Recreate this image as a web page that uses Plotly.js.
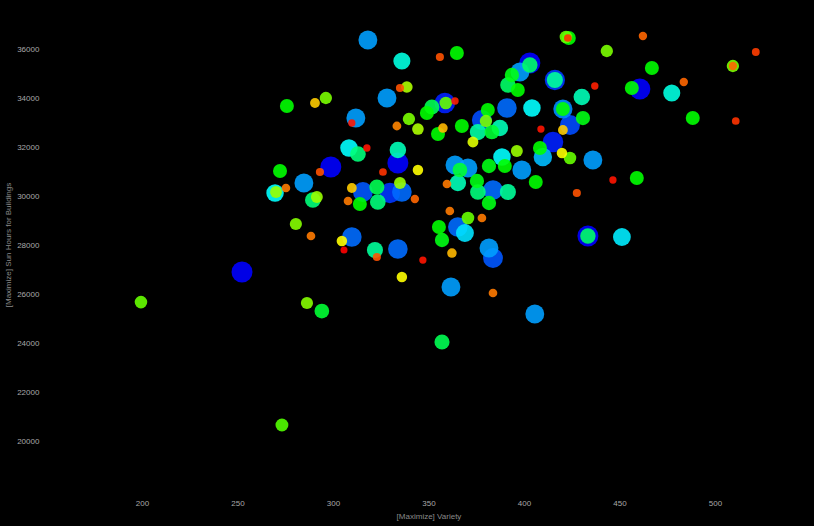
<!DOCTYPE html>
<html>
<head>
<meta charset="utf-8">
<script src="https://cdn.plot.ly/plotly-3.0.1.min.js"></script>
<style>html,body{margin:0;padding:0;background:#000;}#chart{width:814px;height:526px;}</style>
</head>
<body>
<div id="chart"></div>
<script>
// [Maximize] Variety
const variety = [199.2,252.1,273.0,286.1,293.9,356.8,280.3,288.2,275.6,272.0,269.4,269.9,275.1,284.5,289.2,291.3,290.3,296.0,318.0,311.7,309.6,308.1,312.8,317.5,298.6,292.9,309.6,315.4,322.7,323.2,313.8,307.6,309.6,304.4,305.5,321.7,322.7,335.8,355.7,364.6,328.0,334.8,338.4,358.3,358.8,363.6,351.5,348.9,339.5,333.2,344.2,357.3,354.7,367.2,380.8,377.7,379.8,387.1,375.6,373.0,382.9,333.7,333.7,344.2,325.9,363.6,370.4,366.2,381.4,388.2,329.5,334.8,335.8,342.6,359.4,365.1,375.1,375.6,383.5,381.4,391.3,360.9,377.7,355.2,356.8,365.1,370.4,368.8,362.0,346.8,333.7,381.4,383.5,335.8,361.5,383.5,405.4,402.8,402.8,397.6,393.4,391.3,396.5,415.9,415.9,421.7,423.2,422.7,443.1,436.8,430.0,390.8,403.9,420.1,420.1,430.6,408.6,423.8,420.1,414.9,408.1,409.6,419.6,423.8,435.8,396.0,389.7,398.6,405.9,427.4,446.3,458.8,433.2,433.2,451.0,462.0,521.1,509.1,509.1,466.7,483.4,460.4,456.2,477.1,488.1,510.6];
// [Maximize] Sun Hours for Buildings
const sunHours = [25670,26897,20652,25632,25305,24040,28857,28367,33673,31020,30122,30163,30326,30530,29836,29959,33796,34000,36367,33183,32979,31959,31714,31959,31183,30979,30326,30163,30367,29755,29673,29796,28326,28163,27795,27795,27509,35510,35673,35837,34000,34408,34449,33796,33796,33877,33632,33388,33143,32857,32734,32775,32530,32857,33510,33102,33061,32775,32612,32204,32612,31877,31347,31061,30979,31265,31143,31061,31224,31592,30122,30530,30163,29877,30489,30530,30612,30163,30244,29714,30163,29387,29101,28734,28204,28734,29101,28489,27673,27387,27836,27877,27469,26693,26285,26040,25183,35429,35347,35061,34939,34530,34326,34735,34735,36490,36449,36449,35918,34490,34041,33592,33592,33551,33551,33183,32734,32898,32694,32204,31959,31592,31755,31551,31469,31837,31224,31061,30571,30122,30653,30734,28367,28367,28326,36531,35878,35306,35306,35224,34653,34367,34408,34204,33183,33061];
// third objective (colour + size), normalised 0..1
const score = [0.40,1.00,0.42,0.37,0.55,0.58,0.37,0.12,0.50,0.50,0.75,0.35,0.12,0.85,0.62,0.35,0.20,0.38,0.85,0.85,0.02,0.75,0.62,0.02,1.00,0.08,0.20,0.92,0.58,0.62,0.50,0.12,0.90,0.25,0.00,0.65,0.08,0.72,0.08,0.50,0.85,0.08,0.33,0.97,0.40,0.03,0.58,0.50,0.38,0.13,0.33,0.18,0.50,0.50,0.50,0.93,0.38,0.68,0.66,0.28,0.55,0.68,1.00,0.25,0.05,0.85,0.85,0.55,0.52,0.75,0.95,0.35,0.90,0.10,0.12,0.68,0.52,0.62,0.90,0.52,0.65,0.12,0.12,0.50,0.52,0.90,0.40,0.78,0.18,0.02,0.90,0.85,0.92,0.25,0.85,0.12,0.85,1.00,0.60,0.85,0.52,0.60,0.50,0.95,0.65,0.40,0.50,0.05,0.38,0.03,0.68,0.90,0.75,0.87,0.50,0.52,0.02,0.93,0.20,0.97,0.50,0.82,0.25,0.40,0.85,0.35,0.50,0.85,0.50,0.08,0.02,0.50,1.00,0.60,0.77,0.10,0.06,0.38,0.10,0.50,0.10,1.00,0.50,0.72,0.50,0.05];
const xTicks = [200,250,300,350,400,450,500];
const yTicks = [20000,22000,24000,26000,28000,30000,32000,34000,36000];

// draw big markers first so small ones sit on top
const order = score.map((v,i)=>i).sort((a,b)=>score[b]-score[a]);
const xs = order.map(i=>variety[i]);
const ys = order.map(i=>sunHours[i]);
const cs = order.map(i=>score[i]);

const trace = {
  type:'scatter', mode:'markers',
  x: xs, y: ys,
  marker:{
    color: cs, cmin:0, cmax:1,
    colorscale:[[0,'rgb(255,0,0)'],[0.25,'rgb(255,255,0)'],[0.5,'rgb(0,255,0)'],[0.75,'rgb(0,255,255)'],[0.87,'rgb(0,140,255)'],[1,'rgb(0,0,255)']],
    size: cs.map(v=>7+14*v),
    opacity:0.9,
    line:{width:0}
  },
  hoverinfo:'x+y'
};

const axisFont = {family:'"Liberation Sans", Arial, sans-serif', size:8, color:'#a8a8a8'};
const titleFont = {family:'"Liberation Sans", Arial, sans-serif', size:8, color:'#8a8a8a'};

const layout = {
  width:814, height:526,
  paper_bgcolor:'#000', plot_bgcolor:'#000',
  margin:{l:47, r:3, t:0, b:36},
  showlegend:false,
  xaxis:{range:[150,550], tickvals:xTicks, ticktext:xTicks.map(String), showgrid:false, zeroline:false, showline:false,
         ticks:'outside', ticklen:5, tickcolor:'rgba(0,0,0,0)', tickfont:axisFont,
         title:{text:'[Maximize] Variety', font:titleFont, standoff:6}, automargin:false},
  yaxis:{range:[18000,38000], tickvals:yTicks, ticktext:yTicks.map(String), showgrid:false, zeroline:false, showline:false,
         ticks:'outside', ticklen:5, tickcolor:'rgba(0,0,0,0)', tickfont:axisFont,
         title:{text:'[Maximize] Sun Hours for Buildings', font:titleFont, standoff:4}, automargin:false}
};

Plotly.newPlot('chart',[trace],layout,{displayModeBar:false, staticPlot:true});
</script>
</body>
</html>
